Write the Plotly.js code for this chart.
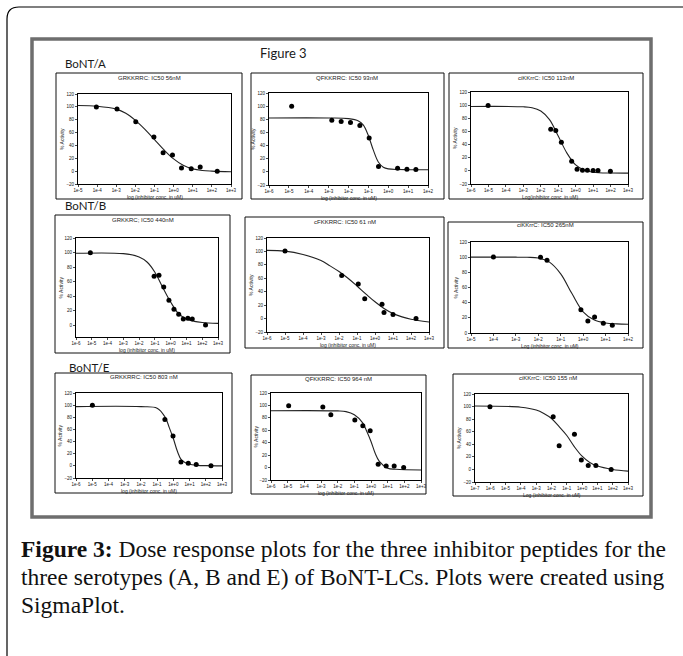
<!DOCTYPE html>
<html><head><meta charset="utf-8">
<script src="https://cdn.plot.ly/plotly-3.0.1.min.js"></script>
<style>html,body{margin:0;padding:0;background:#fff}#chart{width:683px;height:656px}</style>
</head><body><div id="chart"></div>
<script>
// ---------- data ----------
const titles = ["GRKKRRC: IC50 56nM","QFKKRRC: IC50 93nM","ciKKrrC: IC50 113nM",
                "GRKKRC; IC50 440nM","cFKKRRC: IC50 61 nM","ciKKrrC: IC50 265nM",
                "GRKKRRC: IC50 803 nM","QFKKRRC: IC50 964 nM","ciKKrrC: IC50 155 nM"];
const xTitles = ["log (inhibitor conc. in uM)","log (inhibitor conc. in uM)","Log(inhibitor conc. in uM)",
                 "log (inhibitor conc. in uM)","log (inhibitor conc. in uM)","Log (inhibitor conc. in uM)",
                 "log (inhibitor conc. in uM)","log (inhibitor conc. in uM)","Log (inhibitor conc. in uM)"];
const yTitle = "% Activity";
const groupLabels = ["BoNT/A","BoNT/B","BoNT/E"];
const figTitle = "Figure 3";
const captionLines = ["<b>Figure 3:</b> Dose response plots for the three inhibitor peptides for the",
                      "three serotypes (A, B and E) of BoNT-LCs. Plots were created using",
                      "SigmaPlot."];

const ticksA1 = ["1e-5","1e-4","1e-3","1e-2","1e-1","1e+0","1e+1","1e+2","1e+3"];
const ptsXA1 = [-4.04,-2.96,-1.98,-1.03,-0.55,-0.06,0.41,0.92,1.39,2.28];
const ptsYA1 = [99.6,96.5,76.7,53.2,28.7,25,4.7,3.7,6.3,0];
const fitXA1 = [-5,-4,-3,-2.5,-2,-1.5,-1,-0.5,0,0.5,1,1.5,2,3];
const fitYA1 = [102,101,96.5,90,79,65,49,33,19,9,3.5,1,0,-1];

const ticksA2 = ["1e-6","1e-5","1e-4","1e-3","1e-2","1e-1","1e+0","1e+1","1e+2"];
const ptsXA2 = [-4.86,-2.84,-2.37,-1.9,-1.43,-0.96,-0.49,0.47,0.94,1.39];
const ptsYA2 = [99.8,78.7,76.6,75.1,70.6,51.4,8.1,5.5,4,3.5];
const fitXA2 = [-6,-3,-2,-1.5,-1.25,-1,-0.75,-0.5,-0.25,0,0.5,1,2];
const fitYA2 = [82,82,81,77.5,71,55,33,15,7,4.5,3.5,3.3,3.3];

const ticksA3 = ["1e-6","1e-5","1e-4","1e-3","1e-2","1e-1","1e+0","1e+1","1e+2","1e+3"];
const ptsXA3 = [-5.02,-1.43,-1.14,-0.82,-0.23,0.08,0.39,0.67,1.0,1.28,1.99];
const ptsYA3 = [99.6,63.3,61.3,43.4,14.8,2.6,1,1,0.5,0.5,-0.5];
const fitXA3 = [-6,-3,-2.5,-2,-1.5,-1,-0.5,0,0.5,1,2,3];
const fitYA3 = [98,97.5,96,91,78,53,27,9,1,-2,-3.3,-3.5];

const ticksB1 = ["1e-6","1e-5","1e-4","1e-3","1e-2","1e-1","1e+0","1e+1","1e+2","1e+3"];
const ptsXB1 = [-5.09,-1.05,-0.74,-0.44,-0.11,0.21,0.51,0.8,1.09,1.37,2.21];
const ptsYB1 = [99.9,67.4,68.7,52.7,34.4,22,15.1,8.7,9.6,8.7,0.5];
const fitXB1 = [-6,-3,-2,-1.5,-1,-0.5,0,0.5,1,1.5,2,3];
const fitYB1 = [99,98.5,94,87,73,52,32,16,8.7,5.5,4,2.7];

const ticksB2 = ["1e-6","1e-5","1e-4","1e-3","1e-2","1e-1","1e+0","1e+1","1e+2","1e+3"];
const ptsXB2 = [-5,-1.85,-0.93,-0.57,0.39,0.5,1,2.28];
const ptsYB2 = [100.5,64,51.5,29.5,21.5,9,6,0];
const fitXB2 = [-6,-5,-4,-3,-2.5,-2,-1.5,-1,-0.5,0,0.5,1,1.5,2,3];
const fitYB2 = [101.5,100.5,95.5,86.5,78.5,70,60,48.5,36.5,25,15,7.5,2.5,-1,-5];

const ticksB3 = ["1e-5","1e-4","1e-3","1e-2","1e-1","1e+0","1e+1","1e+2"];
const ptsXB3 = [-4,-1.9,-1.61,-0.1,0.21,0.51,0.9,1.3];
const ptsYB3 = [100.2,99.8,95.8,30.8,15.8,21,12.7,10.1];
const fitXB3 = [-5,-3,-2.5,-2,-1.5,-1,-0.5,0,0.5,1,1.5,2];
const fitYB3 = [100,100,99.8,99,93.5,78,52,28,17,13.2,12,11.5];

const ticksE1 = ["1e-6","1e-5","1e-4","1e-3","1e-2","1e-1","1e+0","1e+1","1e+2","1e+3"];
const ptsXE1 = [-4.99,-0.52,-0.02,0.47,0.92,1.41,2.32];
const ptsYE1 = [99.8,76.4,49.1,6.5,4.4,2.2,0];
const fitXE1 = [-6,-2,-1,-0.5,-0.25,0,0.25,0.5,1,1.5,2,3];
const fitYE1 = [97.6,97.5,95,80,63,45,24,10,2.5,0.8,0.3,0];

const ticksE2 = ["1e-6","1e-5","1e-4","1e-3","1e-2","1e-1","1e+0","1e+1","1e+2","1e+3"];
const ptsXE2 = [-4.94,-2.89,-2.41,-0.97,-0.49,-0.05,0.43,0.91,1.39,1.96];
const ptsYE2 = [99.6,97.4,85,76.4,67.3,59.2,5.4,2.7,2.7,0];
const fitXE2 = [-6,-2,-1.5,-1,-0.5,-0.25,0,0.25,0.5,1,1.5,3];
const fitYE2 = [91.5,91.2,90,85,72,58,42,23,10,-1,-2.7,-3.8];

const ticksE3 = ["1e-7","1e-6","1e-5","1e-4","1e-3","1e-2","1e-1","1e+0","1e+1","1e+2","1e+3"];
const ptsXE3 = [-6.02,-1.89,-1.5,-0.5,-0.05,0.4,0.9,1.9];
const ptsYE3 = [99.8,83.9,37.7,55.8,14.9,6.4,6.4,0];
const fitXE3 = [-7,-4,-3,-2.5,-2,-1.5,-1,-0.5,0,0.5,1,2,3];
const fitYE3 = [101,99,94.5,89,81,68,54,36,21,11,5.3,0,-2.7];

const yRanges = [[-20,120],[-20,120],[-20,120],[-16,120],[-20,120],[0,120],[-20,120],[-20,120],[-20,120]];
const yTickVals = [-20,0,20,40,60,80,100,120];

const series = [
  [ticksA1,ptsXA1,ptsYA1,fitXA1,fitYA1],[ticksA2,ptsXA2,ptsYA2,fitXA2,fitYA2],[ticksA3,ptsXA3,ptsYA3,fitXA3,fitYA3],
  [ticksB1,ptsXB1,ptsYB1,fitXB1,fitYB1],[ticksB2,ptsXB2,ptsYB2,fitXB2,fitYB2],[ticksB3,ptsXB3,ptsYB3,fitXB3,fitYB3],
  [ticksE1,ptsXE1,ptsYE1,fitXE1,fitYE1],[ticksE2,ptsXE2,ptsYE2,fitXE2,fitYE2],[ticksE3,ptsXE3,ptsYE3,fitXE3,fitYE3]
];

// ---------- layout geometry (pixels) ----------
const W = 683, H = 656;
const fx = x => x / W, fy = y => 1 - y / H;
const geom = [
  {box:[56,73,242,199],  plot:[78,94,231,184],   tY:78},
  {box:[251,73,444,199], plot:[269,93,428,185],  tY:78},
  {box:[449,73,643,199], plot:[471,92,628,184],  tY:78},
  {box:[55,215,230,353], plot:[76,238,218,337],  tY:220},
  {box:[245,217,444,348],plot:[267,238,429,332], tY:222},
  {box:[448,222,643,348],plot:[471,242,628,333], tY:225},
  {box:[55,373,232,493], plot:[76,393,222,478],  tY:377},
  {box:[251,375,426,494],plot:[271,393,421,480], tY:379},
  {box:[453,374,643,496],plot:[475,394,628,482], tY:378}
];

const traces = [];
const layout = {
  width: W, height: H, margin: {l:0,r:0,t:0,b:0},
  paper_bgcolor: '#fff', plot_bgcolor: '#fff', showlegend: false,
  shapes: [], annotations: []
};
const sansFont = 'Liberation Sans, Arial, sans-serif';

series.forEach((s, i) => {
  const [ticks, ptsX, ptsY, fitX, fitY] = s;
  const g = geom[i];
  const n = i + 1, xa = 'x' + (n > 1 ? n : ''), ya = 'y' + (n > 1 ? n : '');
  const tv = ticks.map(t => Math.log10(Number(t)));
  traces.push({x: fitX, y: fitY, xaxis: xa, yaxis: ya, type: 'scatter', mode: 'lines',
    line: {color: '#222', width: 1.1, shape: 'spline', smoothing: 1}, hoverinfo: 'skip'});
  traces.push({x: ptsX, y: ptsY, xaxis: xa, yaxis: ya, type: 'scatter', mode: 'markers',
    marker: {color: '#000', size: 5}});
  const common = {showline: true, mirror: true, linecolor: '#000', linewidth: 1, ticks: 'outside',
    ticklen: 2, tickwidth: 0.7, tickcolor: '#000', showgrid: false, zeroline: false, fixedrange: true,
    tickfont: {family: sansFont, size: 4.5, color: '#111'}};
  layout['xaxis' + (n > 1 ? n : '')] = Object.assign({}, common, {
    domain: [fx(g.plot[0]), fx(g.plot[2])], range: [tv[0], tv[tv.length - 1]],
    tickvals: tv, ticktext: ticks, anchor: ya});
  const yr = yRanges[i];
  layout['yaxis' + (n > 1 ? n : '')] = Object.assign({}, common, {
    domain: [fy(g.plot[3]), fy(g.plot[1])], range: yr,
    tickvals: yTickVals.filter(v => v >= yr[0]), anchor: xa});
  layout.shapes.push({type: 'rect', xref: 'paper', yref: 'paper',
    x0: fx(g.box[0]), x1: fx(g.box[2]), y0: fy(g.box[3]), y1: fy(g.box[1]),
    line: {color: '#111', width: 1}});
  layout.annotations.push({text: titles[i], xref: 'paper', yref: 'paper', showarrow: false,
    x: fx((g.box[0] + g.box[2]) / 2), y: fy(g.tY), xanchor: 'center', yanchor: 'middle',
    font: {family: sansFont, size: 6, color: '#222'}});
  layout.annotations.push({text: xTitles[i], xref: 'paper', yref: 'paper', showarrow: false,
    x: fx((g.plot[0] + g.plot[2]) / 2), y: fy(g.plot[3] + 13), xanchor: 'center', yanchor: 'middle',
    font: {family: sansFont, size: 5, color: '#222'}});
  layout.annotations.push({text: yTitle, xref: 'paper', yref: 'paper', showarrow: false, textangle: -90,
    x: fx(g.plot[0] - 16), y: fy((g.plot[1] + g.plot[3]) / 2), xanchor: 'center', yanchor: 'middle',
    font: {family: sansFont, size: 5, color: '#111'}});
});

layout.shapes.push({type: 'rect', xref: 'paper', yref: 'paper',
  x0: fx(32), x1: fx(651), y0: fy(517), y1: fy(39), line: {color: '#6e6e6e', width: 3.5}, layer: 'below'});
layout.shapes.push({type: 'path', xref: 'paper', yref: 'paper',
  path: `M ${fx(7)} ${fy(660)} L ${fx(7)} ${fy(19)} Q ${fx(7)} ${fy(7)} ${fx(19)} ${fy(7)} L ${fx(690)} ${fy(7)}`,
  line: {color: '#000', width: 1.2}});

const calibri = 'Lato, Open Sans, sans-serif';
[[groupLabels[0], 63, 63], [groupLabels[1], 63, 206], [groupLabels[2], 67, 367]].forEach(([t, x, y]) => {
  layout.annotations.push({text: t, xref: 'paper', yref: 'paper', showarrow: false,
    x: fx(x), y: fy(y), xanchor: 'left', yanchor: 'middle', font: {family: calibri, size: 11.5, color: '#1a1a1a'}});
});
layout.annotations.push({text: figTitle, xref: 'paper', yref: 'paper', showarrow: false,
  x: fx(283), y: fy(53), xanchor: 'center', yanchor: 'middle', font: {family: calibri, size: 13, color: '#1a1a1a'}});

[549, 577, 605].forEach((y, k) => {
  layout.annotations.push({text: captionLines[k], xref: 'paper', yref: 'paper', showarrow: false,
    x: fx(19), y: fy(y), xanchor: 'left', yanchor: 'middle',
    font: {family: 'Liberation Serif, serif', size: 23.5, color: '#111'}});
});

Plotly.newPlot('chart', traces, layout, {staticPlot: true, displayModeBar: false});
</script></body></html>
